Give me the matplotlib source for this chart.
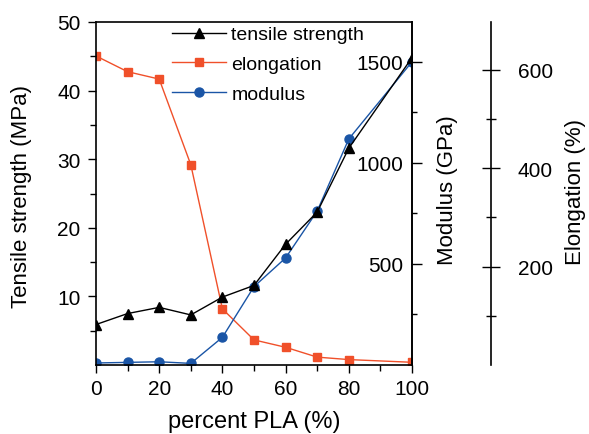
import matplotlib
matplotlib.use("Agg")
import matplotlib.pyplot as plt
from matplotlib.ticker import MultipleLocator, FixedLocator

plt.rcParams['font.family'] = ['Liberation Sans', 'DejaVu Sans']

pla = [0, 10, 20, 30, 40, 50, 60, 70, 80, 100]
tensile = [5.9, 7.5, 8.4, 7.3, 9.9, 11.6, 17.6, 22.3, 31.6, 44.8]
elongation = [628, 596, 581, 407, 114, 51, 36, 16, 11, 5.5]
modulus = [10, 13, 16, 8, 137, 388, 530, 762, 1119, 1501]

black = '#000000'
red = '#F0502A'
blue = '#1A55A6'

fig = plt.figure(figsize=(5.89, 4.35), dpi=100)
ax = fig.add_axes([96/589, 1-366/435, 316/589, 343/435])
ax2 = ax.twinx()
ax3 = ax.twinx()

ms = 6.5
l1, = ax.plot(pla, tensile, color=black, marker='^', ms=ms, lw=1.0, label='tensile strength')
l3, = ax3.plot(pla, elongation, color=red, marker='s', ms=ms-0.5, lw=1.0, label='elongation')
l2, = ax2.plot(pla, modulus, color=blue, marker='o', ms=ms, lw=1.0, label='modulus')

ax.set_xlim(0, 100)
ax.set_ylim(0, 50)
ax2.set_ylim(0, 1698)
ax3.set_ylim(0, 697)

fs = 15
lfs = 16
ax.xaxis.set_major_locator(MultipleLocator(20))
ax.xaxis.set_minor_locator(MultipleLocator(10))
ax.yaxis.set_major_locator(FixedLocator([10, 20, 30, 40, 50]))
ax.yaxis.set_minor_locator(FixedLocator([5, 15, 25, 35, 45]))
ax.tick_params(axis='both', which='major', direction='out', length=6, width=1, labelsize=fs)
ax.tick_params(axis='x', which='major', pad=4)
ax.tick_params(axis='y', which='major', pad=5)
ax.tick_params(axis='both', which='minor', direction='out', length=4, width=1)
ax.tick_params(axis='x', top=False, which='both')
for s in ['top', 'right', 'left', 'bottom']:
    ax.spines[s].set_linewidth(1.2)

# modulus axis: ticks outward on right, labels inside
ax2.yaxis.set_major_locator(FixedLocator([500, 1000, 1500]))
ax2.yaxis.set_minor_locator(FixedLocator([250, 750, 1250]))
ax2.tick_params(axis='y', which='major', direction='out', length=7, width=1, labelsize=fs, pad=-13.5)
ax2.tick_params(axis='y', which='minor', direction='out', length=3.5, width=1)
for t in ax2.yaxis.get_major_ticks():
    t.label2.set_horizontalalignment('right')
for s in ['top', 'left', 'bottom']:
    ax2.spines[s].set_visible(False)
ax2.spines['right'].set_linewidth(1.2)
ax2.set_ylabel('Modulus (GPa)', fontsize=lfs)
ax2.yaxis.set_label_coords((437-96)/316, 1-(190-23)/343)

# elongation axis: offset spine
ax3.spines['right'].set_position(('axes', (490.7-96)/316))
for s in ['top', 'left', 'bottom']:
    ax3.spines[s].set_visible(False)
ax3.spines['right'].set_linewidth(1.2)
ax3.yaxis.set_major_locator(FixedLocator([200, 400, 600]))
ax3.yaxis.set_minor_locator(FixedLocator([100, 300, 500]))
ax3.tick_params(axis='y', which='major', direction='inout', length=13, width=1, labelsize=fs, pad=13)
ax3.tick_params(axis='y', which='minor', direction='inout', length=7, width=1)
ax3.set_ylabel('Elongation (%)', fontsize=lfs)
ax3.yaxis.set_label_coords((565-96)/316, 1-(192-23)/343)

ax.set_xlabel('percent PLA (%)', fontsize=17, labelpad=9)
ax.set_ylabel('Tensile strength (MPa)', fontsize=lfs)
ax.yaxis.set_label_coords(-(96-32)/316, 1-(197-23)/343)

ax.set_zorder(3)
ax.patch.set_visible(False)
ax2.set_zorder(2)
ax3.set_zorder(1)

leg = ax.legend([l1, l3, l2], ['tensile strength', 'elongation', 'modulus'],
                loc='upper left', bbox_to_anchor=((168-96)/316, 1.0), frameon=False,
                fontsize=14, handlelength=2.8, handletextpad=0.25, labelspacing=0.62,
                borderaxespad=0.0, borderpad=0.2)

fig.savefig('out.png', dpi=100)
